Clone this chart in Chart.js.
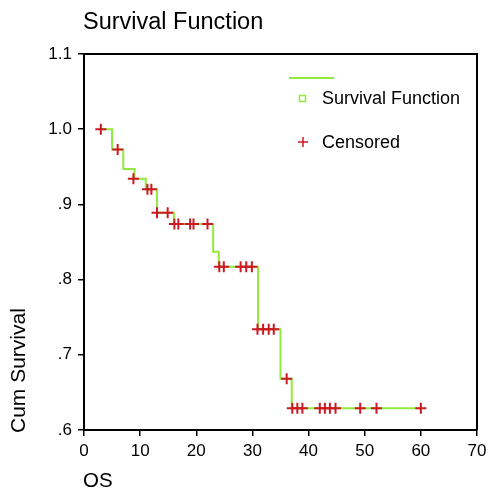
<!DOCTYPE html>
<html>
<head>
<meta charset="utf-8">
<title>Survival Function</title>
<script src="https://cdn.jsdelivr.net/npm/chart.js@4/dist/chart.umd.min.js"></script>
<style>
  html, body { margin: 0; padding: 0; background: #fff; }
  #wrap { width: 489px; height: 489px; }
</style>
</head>
<body>
<div id="wrap"><canvas id="survivalChart" width="489" height="489"></canvas></div>
<script>
// Step line of the survival function (time, cumulative survival)
const stepTimes = [3, 5, 7, 9, 11, 13, 16, 23, 24, 31, 35, 37, 60];
const stepSurvival = [1.0, 0.973, 0.947, 0.934, 0.92, 0.889, 0.874, 0.837, 0.817, 0.734, 0.668, 0.629, 0.629];

// Censored cases
const censorTimes = [3, 6, 8.8, 11.3, 12, 13, 14.9, 16.1, 16.8, 18.9, 19.5, 22,
  24.1, 24.9, 27.9, 28.9, 29.9, 30.9, 31.9, 32.9, 33.8, 36.1,
  37.1, 38, 38.9, 42, 42.9, 43.8, 44.8, 49.2, 52.1, 60];
const censorSurvival = [1.0, 0.973, 0.934, 0.92, 0.92, 0.889, 0.889, 0.874, 0.874, 0.874, 0.874, 0.874,
  0.817, 0.817, 0.817, 0.817, 0.817, 0.734, 0.734, 0.734, 0.734, 0.668,
  0.629, 0.629, 0.629, 0.629, 0.629, 0.629, 0.629, 0.629, 0.629, 0.629];

// Axis ticks
const xTicks = [0, 10, 20, 30, 40, 50, 60, 70];
const yTicks = [0.6, 0.7, 0.8, 0.9, 1.0, 1.1];

const lineColor = "#93ea3e";
const markColor = "#cc1a22";
const fontName = "'Liberation Sans', Arial, sans-serif";

const stepData = stepTimes.map(function (t, i) {
  return { x: t, y: stepSurvival[i] };
});
const censorData = censorTimes.map(function (t, i) {
  return { x: t, y: censorSurvival[i] };
});

function yLabel(v) {
  const r = Math.round(v * 10) / 10;
  return r >= 1 ? r.toFixed(1) : r.toFixed(1).replace(/^0/, "");
}

// Title, axis titles, legend and the frame top/right
const extras = {
  id: "extras",
  afterDraw: function (chart) {
    const ctx = chart.ctx;
    const area = chart.chartArea;
    ctx.save();

    ctx.strokeStyle = "#000";
    ctx.lineWidth = 2;
    ctx.beginPath();
    ctx.moveTo(area.left, area.top);
    ctx.lineTo(area.right, area.top);
    ctx.lineTo(area.right, area.bottom);
    ctx.stroke();

    ctx.fillStyle = "#000";
    ctx.textBaseline = "middle";
    ctx.textAlign = "left";
    ctx.font = "23.5px " + fontName;
    ctx.fillText("Survival Function", 83, 23);

    ctx.font = "20.5px " + fontName;
    ctx.fillText("OS", 83, 481);

    ctx.save();
    ctx.font = "21px " + fontName;
    ctx.translate(19, 433);
    ctx.rotate(-Math.PI / 2);
    ctx.fillText("Cum Survival", 0, 0);
    ctx.restore();

    // legend
    ctx.strokeStyle = lineColor;
    ctx.lineWidth = 2;
    ctx.beginPath();
    ctx.moveTo(289, 78);
    ctx.lineTo(334, 78);
    ctx.stroke();
    ctx.lineWidth = 1.5;
    ctx.strokeRect(299.5, 95.5, 6, 6);

    ctx.strokeStyle = markColor;
    ctx.lineWidth = 1.5;
    ctx.beginPath();
    ctx.moveTo(303, 137);
    ctx.lineTo(303, 147);
    ctx.moveTo(298, 142);
    ctx.lineTo(308, 142);
    ctx.stroke();

    ctx.fillStyle = "#000";
    ctx.font = "18px " + fontName;
    ctx.fillText("Survival Function", 322, 99);
    ctx.fillText("Censored", 322, 143);

    ctx.restore();
  }
};

const survivalChart = document.getElementById("survivalChart");

new Chart(survivalChart, {
  type: "scatter",
  data: {
    datasets: [
      {
        label: "Censored",
        data: censorData,
        order: 0,
        showLine: false,
        pointStyle: "cross",
        pointRadius: 5.5,
        pointBorderWidth: 2,
        pointBorderColor: markColor,
        pointBackgroundColor: markColor
      },
      {
        label: "Survival Function",
        data: stepData,
        order: 1,
        showLine: true,
        stepped: true,
        borderColor: lineColor,
        borderWidth: 2,
        pointRadius: 0,
        fill: false
      }
    ]
  },
  options: {
    responsive: false,
    animation: false,
    layout: { padding: { top: 54, right: 12, left: 0, bottom: 0 } },
    plugins: {
      legend: { display: false },
      tooltip: { enabled: false }
    },
    scales: {
      x: {
        type: "linear",
        min: 0,
        max: 70,
        afterBuildTicks: function (scale) {
          scale.ticks = xTicks.map(function (v) { return { value: v }; });
        },
        afterFit: function (scale) {
          scale.height = 59;
          scale.paddingLeft = 0;
          scale.paddingRight = 0;
        },
        border: { display: true, color: "#000", width: 2 },
        grid: { drawOnChartArea: false, drawTicks: true, tickLength: 6, color: "#000", lineWidth: 1.5 },
        ticks: {
          color: "#000",
          padding: 5,
          maxRotation: 0,
          font: { family: fontName, size: 17 }
        }
      },
      y: {
        type: "linear",
        min: 0.6,
        max: 1.1,
        afterBuildTicks: function (scale) {
          scale.ticks = yTicks.map(function (v) { return { value: v }; });
        },
        afterFit: function (scale) {
          scale.width = 84;
        },
        border: { display: true, color: "#000", width: 2 },
        grid: { drawOnChartArea: false, drawTicks: true, tickLength: 6, color: "#000", lineWidth: 1.5 },
        ticks: {
          color: "#000",
          padding: 6,
          font: { family: fontName, size: 17 },
          callback: function (value) { return yLabel(value); }
        }
      }
    }
  },
  plugins: [extras]
});
</script>
</body>
</html>
